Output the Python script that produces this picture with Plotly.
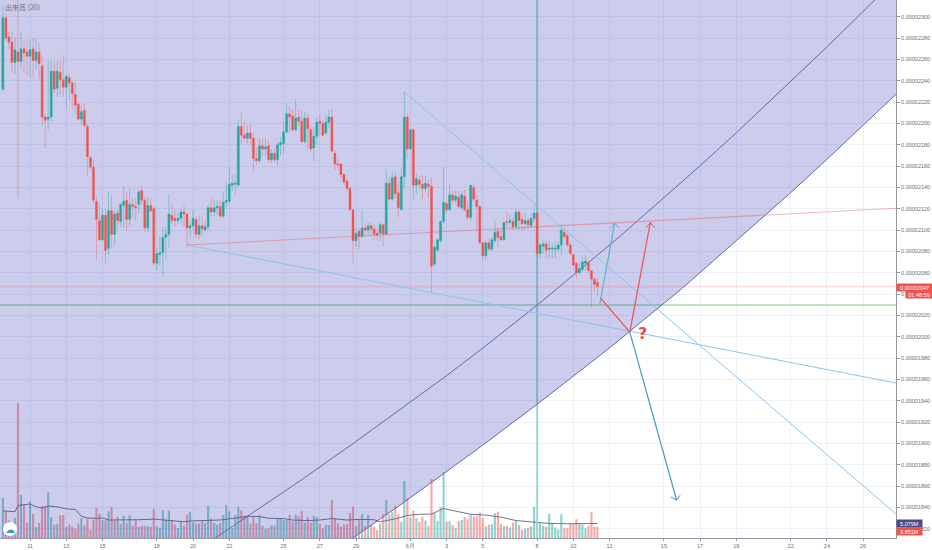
import plotly.graph_objects as go

opens = [2232,2299,2281,2276,2257,2267,2258,2270,2267,2263,2270,2259,2267,2254,2206,2204,2206,2249,2233,2248,
2241,2234,2243,2238,2227,2218,2204,2212,2197,2168,2159,2127,2109,2091,2114,2083,2118,2096,2116,2108,
2123,2128,2110,2124,2122,2124,2137,2128,2102,2123,2120,2069,2077,2079,2093,2096,2114,2111,2109,2111,
2117,2115,2102,2104,2110,2096,2104,2100,2103,2121,2117,2121,2122,2113,2126,2127,2142,2143,2142,2197,
2189,2186,2191,2186,2167,2165,2179,2176,2179,2166,2172,2166,2180,2181,2192,2209,2207,2194,2206,2202,
2183,2205,2194,2177,2188,2202,2200,2191,2201,2206,2172,2162,2162,2152,2146,2139,2119,2090,2099,2094,
2102,2100,2104,2101,2097,2097,2105,2096,2144,2129,2150,2135,2119,2150,2206,2176,2194,2142,2147,2143,
2139,2143,2141,2068,2081,2090,2108,2125,2119,2133,2128,2131,2121,2132,2119,2112,2140,2128,2122,2088,
2076,2088,2082,2090,2099,2094,2091,2108,2107,2108,2103,2117,2110,2106,2109,2104,2111,2116,2078,2085,
2087,2082,2082,2082,2082,2086,2098,2095,2086,2077,2069,2060,2063,2069,2070,2062,2054,2051]
highs = [2311,2303,2286,2286,2281,2316,2286,2277,2278,2278,2280,2280,2276,2264,2209,2259,2259,2258,2258,2259,
2264,2247,2247,2239,2239,2219,2217,2219,2200,2169,2166,2131,2125,2120,2120,2136,2133,2118,2119,2125,
2141,2136,2139,2131,2130,2138,2142,2131,2131,2130,2122,2084,2094,2103,2103,2133,2124,2120,2116,2120,
2123,2116,2108,2119,2113,2113,2113,2108,2123,2130,2128,2128,2128,2136,2145,2159,2152,2153,2203,2210,
2202,2198,2199,2191,2178,2186,2186,2186,2184,2176,2178,2183,2187,2202,2219,2216,2213,2223,2214,2212,
2211,2209,2198,2197,2206,2208,2203,2208,2213,2214,2175,2167,2163,2153,2148,2141,2119,2102,2102,2119,
2106,2108,2108,2105,2102,2108,2106,2157,2150,2155,2155,2145,2158,2230,2210,2195,2195,2153,2151,2152,
2151,2147,2149,2086,2092,2109,2159,2127,2143,2137,2137,2137,2136,2138,2127,2142,2144,2133,2123,2089,
2090,2092,2094,2109,2102,2100,2108,2117,2115,2112,2120,2119,2116,2116,2112,2116,2123,2117,2088,2091,
2090,2090,2088,2089,2089,2105,2102,2097,2089,2078,2070,2069,2075,2076,2070,2062,2056,2055]
lows = [2230,2277,2269,2248,2246,2130,2250,2248,2245,2243,2242,2250,2241,2198,2177,2194,2202,2228,2225,2227,
2225,2213,2222,2213,2209,2203,2199,2197,2151,2156,2125,2073,2089,2089,2069,2077,2084,2086,2100,2103,
2102,2100,2103,2112,2109,2116,2123,2098,2098,2116,2067,2063,2067,2056,2072,2084,2106,2103,2106,2107,
2103,2084,2092,2100,2093,2091,2093,2098,2100,2113,2113,2114,2111,2111,2120,2125,2137,2133,2141,2180,
2183,2181,2180,2156,2161,2163,2169,2170,2164,2163,2163,2161,2170,2172,2191,2192,2192,2192,2198,2180,
2181,2177,2173,2165,2180,2189,2188,2189,2195,2173,2156,2158,2148,2142,2136,2119,2069,2084,2082,2092,
2094,2095,2094,2091,2090,2090,2085,2095,2128,2127,2130,2112,2119,2139,2167,2175,2128,2134,2138,2128,
2136,2130,2041,2066,2080,2088,2106,2116,2119,2125,2125,2120,2119,2117,2109,2109,2127,2100,2086,2072,
2072,2081,2080,2088,2084,2089,2090,2103,2105,2100,2101,2100,2099,2100,2100,2102,2108,2075,2073,2078,
2073,2073,2073,2073,2080,2077,2092,2084,2077,2066,2054,2059,2061,2062,2061,2027,2042,2038]
closes = [2299,2280,2276,2257,2269,2258,2270,2266,2263,2269,2259,2267,2256,2206,2203,2206,2249,2232,2249,2241,
2234,2244,2238,2228,2217,2204,2211,2198,2169,2159,2128,2110,2091,2114,2081,2118,2096,2115,2109,2124,
2127,2110,2124,2122,2121,2136,2128,2102,2123,2118,2069,2078,2079,2093,2096,2115,2109,2109,2111,2117,
2115,2102,2104,2111,2096,2104,2101,2103,2121,2117,2121,2122,2113,2126,2128,2143,2144,2144,2197,2189,
2186,2191,2186,2167,2165,2179,2176,2178,2166,2172,2166,2180,2182,2192,2209,2206,2194,2205,2202,2183,
2205,2195,2176,2188,2201,2200,2189,2201,2206,2174,2162,2161,2152,2145,2139,2119,2090,2097,2094,2102,
2100,2104,2101,2096,2095,2105,2096,2144,2129,2149,2134,2121,2150,2206,2176,2194,2142,2148,2143,2139,
2144,2141,2066,2084,2091,2108,2126,2119,2133,2128,2132,2122,2133,2119,2112,2142,2129,2122,2088,2076,
2088,2082,2091,2098,2093,2091,2107,2107,2109,2103,2117,2109,2106,2109,2105,2111,2116,2078,2086,2087,
2081,2083,2083,2083,2086,2100,2094,2086,2078,2067,2060,2064,2070,2071,2062,2054,2049,2047]
volumes = [14.0,9.4,6.2,5.0,7.0,47.2,15.1,11.7,5.3,12.8,8.4,3.9,5.3,11.3,10.9,16.0,7.3,4.7,4.9,8.0,
8.0,3.9,4.7,4.0,3.3,5.0,7.0,4.3,6.8,2.9,6.4,10.5,8.5,6.2,6.2,9.4,10.8,6.1,7.4,4.9,
7.8,5.3,8.0,4.3,6.1,3.9,4.3,4.3,4.1,3.9,10.2,4.1,3.6,9.7,6.4,9.6,6.4,4.7,3.5,5.9,
4.3,8.2,9.2,5.5,5.0,5.0,5.9,5.3,11.3,6.7,5.3,4.7,5.3,8.0,11.6,9.4,3.5,8.0,10.9,9.7,
7.8,7.8,5.0,7.4,5.3,8.1,4.3,3.2,3.5,4.4,4.4,6.9,7.0,6.2,6.4,8.1,5.9,8.1,7.6,9.4,
5.4,7.3,5.4,7.8,7.4,4.9,3.4,4.6,4.6,13.3,6.9,5.1,4.0,4.7,4.8,8.7,11.0,4.2,6.3,8.3,
4.2,8.1,4.6,4.0,2.8,5.1,8.4,13.3,8.4,9.2,11.2,8.4,5.7,20.0,13.9,7.1,9.6,6.9,5.7,7.3,
6.1,4.2,20.6,8.7,6.0,10.8,23.0,5.7,5.9,4.6,3.4,6.0,6.3,7.3,6.6,8.1,7.5,7.7,8.9,7.1,
4.0,4.6,4.8,8.7,9.2,4.9,4.2,4.2,3.7,5.4,6.1,4.6,2.8,3.3,3.6,4.0,10.9,5.7,5.1,4.2,
4.0,8.5,5.1,3.7,3.0,8.3,3.6,3.4,5.1,4.9,6.6,4.9,4.7,3.4,4.2,9.1,4.0,3.85]
ma_idx = [0,4,5,7,9,11,13,15,18,21,24,26,28,31,33,35,39,42,45,50,53,56,60,63,67,72,76,81,85,88,93,96,101,
105,109,114,118,123,125,130,134,138,142,146,150,155,160,165,170,176,181,187,192,197]
ma_val = [9.5,9.2,11.4,11.7,11.9,10.9,10.5,11.2,10.9,10.2,10.0,7.6,7.0,6.9,7.0,6.3,6.3,6.4,6.4,6.6,6.3,6.2,5.7,6.0,6.2,6.3,6.8,7.6,7.5,6.9,6.8,6.3,6.1,
6.3,6.8,6.3,6.5,6.4,5.7,6.7,7.9,8.3,8.4,10.3,9.4,8.3,8.0,7.3,6.1,5.6,5.1,5.0,5.0,5.08]

inner_i = [70.2,80.7,98.4,116.0,134.8,147,159.1,177.6,204.3,218.7,230.8,243,260.6,272.8,287.9,290]
inner_v = [1811,1830.9,1864.8,1899.8,1938,1963.5,1989.6,2031,2093.8,2129.2,2159.8,2191.2,2238.1,2271.1,2313,2319]
outer_i = [115.8,132.6,145.8,159,177.6,200.5,224.8,243,253.1,260.6,272.8,284.9,295.9]
outer_v = [1811,1844.2,1871.2,1898.4,1938,1988.4,2044.8,2090.2,2114.7,2134,2165.8,2197.6,2227.3]

tick_idx = [9,21,33,51,63,75,93,105,117,135,147,159,177,189,201,219,231,243,261,273,285]
tick_txt = ["11","13","15","18","20","22","25","27","29","6月","3","5","8","10","12","15","17","19","22","24","26"]
price_ticks = list(range(1820, 2301, 20))
price_text = [f"0.0000{p}" for p in price_ticks]

XMIN, XMAX = -0.96, 295.9
VMIN, VMAX = 1811.3, 2315.7
VOLMAX = 188.3
RED, GREEN = "#ef5350", "#26a69a"
n = len(closes)
candle_idx = list(range(n))
vol_colors = ["rgba(38,166,154,0.5)" if closes[k] >= opens[k] else "rgba(239,83,80,0.5)" for k in range(n)]

fig = go.Figure()
fig.add_bar(x=candle_idx, y=volumes, marker=dict(color=vol_colors, line_width=0), width=0.72, yaxis="y")
fig.add_scatter(x=ma_idx, y=ma_val, mode="lines", line=dict(color="#72728f", width=1), yaxis="y")

# Lines that sit beneath the shaded band share the bottom layer with the volume bars
support_on_vol = VOLMAX * (2029.7 - VMIN) / (VMAX - VMIN)
fig.add_scatter(x=[XMIN, XMAX], y=[support_on_vol, support_on_vol], mode="lines", line=dict(color="#bfe3c3", width=2), yaxis="y")
fig.add_scatter(x=[177, 177], y=[0, VOLMAX], mode="lines", line=dict(color="#97dcd2", width=2), yaxis="y")
# Band
fig.add_scatter(x=[XMIN] + outer_i + [XMAX, XMIN], y=[VMIN] + outer_v + [VMAX, VMAX], mode="lines",
                fill="toself", fillcolor="rgba(52,56,180,0.25)", line=dict(width=0), yaxis="y3")
fig.add_scatter(x=inner_i, y=inner_v, mode="lines", line=dict(color="#6666b0", width=1), yaxis="y3")
fig.add_scatter(x=outer_i, y=outer_v, mode="lines", line=dict(color="#6666b0", width=1), yaxis="y3")
fig.add_scatter(x=[XMIN, XMAX], y=[2047, 2047], mode="lines", line=dict(color="rgba(239,83,80,0.18)", width=1.6), yaxis="y3")

fig.add_candlestick(x=candle_idx, open=opens, high=highs, low=lows, close=closes, yaxis="y4",
                    increasing=dict(line=dict(color="rgba(38,166,154,0.6)", width=0.7), fillcolor=GREEN),
                    decreasing=dict(line=dict(color="rgba(239,83,80,0.55)", width=0.7), fillcolor=RED), whiskerwidth=0)

LB = "#8cc4ee"
def seg(xs, ys, color, width=1):
    fig.add_scatter(x=xs, y=ys, mode="lines", line=dict(color=color, width=width), yaxis="y4")

seg([132.8, 295.9], [2230, 1833.8], LB)
seg([61, 295.9], [2086, 1956.6], LB)
seg([61, 295.9], [2086, 2120.4], "rgba(239,83,80,0.42)", 1.1)
seg([198, 207.7], [2036.3, 2004.4], RED, 1.2)
seg([207.7, 214.5], [2004.4, 2107], RED, 1.2)
seg([213.1, 214.5, 215.9], [2102.3, 2107, 2102.3], RED, 1)
seg([197.7, 202.7], [2029.7, 2106.6], "#5cb3cc", 1.2)
seg([201.3, 202.7, 204.1], [2101.9, 2106.6, 2101.9], "#5cb3cc", 1)
seg([207.7, 223.2], [2004.4, 1846.9], "#4a97c4", 1.2)
seg([221.3, 223.2, 224.4], [1849.6, 1846.9, 1851.5], "#4a97c4", 1)

axfont = dict(family="Liberation Sans", size=5.5, color="#6b6e78")
box = dict(xref="paper", yref="paper", xanchor="left", yanchor="middle", showarrow=False, borderpad=0, align="center",
           font=dict(family="Liberation Sans", size=5.5, color="white"))
H = 538.0; W = 896.5
fig.update_layout(
    width=932, height=550, autosize=False, showlegend=False, barmode="overlay", boxgap=0.05,
    paper_bgcolor="white", plot_bgcolor="white",
    margin=dict(l=0, r=35.5, t=0, b=12, pad=0),
    xaxis=dict(range=[XMIN, XMAX], tickvals=tick_idx, ticktext=tick_txt, tickfont=axfont, showgrid=True,
               gridcolor="#edf1f8", gridwidth=1, zeroline=False, showline=True, linecolor="#9598a1", linewidth=1,
               ticks="outside", ticklen=2, tickcolor="#9598a1", rangeslider=dict(visible=False)),
    yaxis=dict(range=[0, VOLMAX], visible=False, showgrid=False, zeroline=False, fixedrange=True),
    yaxis3=dict(range=[VMIN, VMAX], overlaying="y", visible=False, showgrid=False, zeroline=False),
    yaxis4=dict(range=[VMIN, VMAX], overlaying="y", side="right", tickvals=price_ticks, ticktext=price_text,
                tickfont=axfont, showgrid=True, gridcolor="#edf1f8", gridwidth=1, zeroline=False, showline=True,
                linecolor="#9598a1", linewidth=1, ticks="outside", ticklen=3, tickcolor="#9598a1"),
    shapes=[dict(type="circle", xref="paper", yref="paper", layer="above", x0=3/W, x1=17/W, y0=(H-536)/H, y1=(H-522)/H,
                 fillcolor="white", line=dict(width=0))],
    annotations=[
        dict(xref="paper", yref="paper", x=3/W, y=1-7/H, text="出来高 (20)", showarrow=False, xanchor="left", yanchor="middle",
             font=dict(family="Noto Sans CJK JP", size=7, color="#70737f")),
        dict(xref="paper", yref="paper", x=10/W, y=(H-529)/H, text="☁", showarrow=False, xanchor="center", yanchor="middle",
             font=dict(family="DejaVu Sans", size=10, color="#2f9bc4")),
        dict(xref="x", yref="y4", x=212, y=2003, text="<b>?</b>", showarrow=False,
             font=dict(family="DejaVu Sans", size=16, color="#ef4a46")),
        dict(box, x=897/W, y=(H-287.3)/H, text="0.00002047", width=35, height=7, bgcolor="#ef5350"),
        dict(box, x=905.7/W, y=(H-294.5)/H, text="01:48:59", width=26, height=7, bgcolor="#ef5350"),
        dict(box, x=897/W, y=(H-523.5)/H, text="5.079M", width=25, height=7, bgcolor="#4f4a85"),
        dict(box, x=897/W, y=(H-531)/H, text="3.851M", width=25, height=7, bgcolor="#ef5350"),
    ],
)
fig.write_html("out.html", post_script="document.body.style.margin='0';document.documentElement.style.overflow='hidden';",
               config=dict(displayModeBar=False))
